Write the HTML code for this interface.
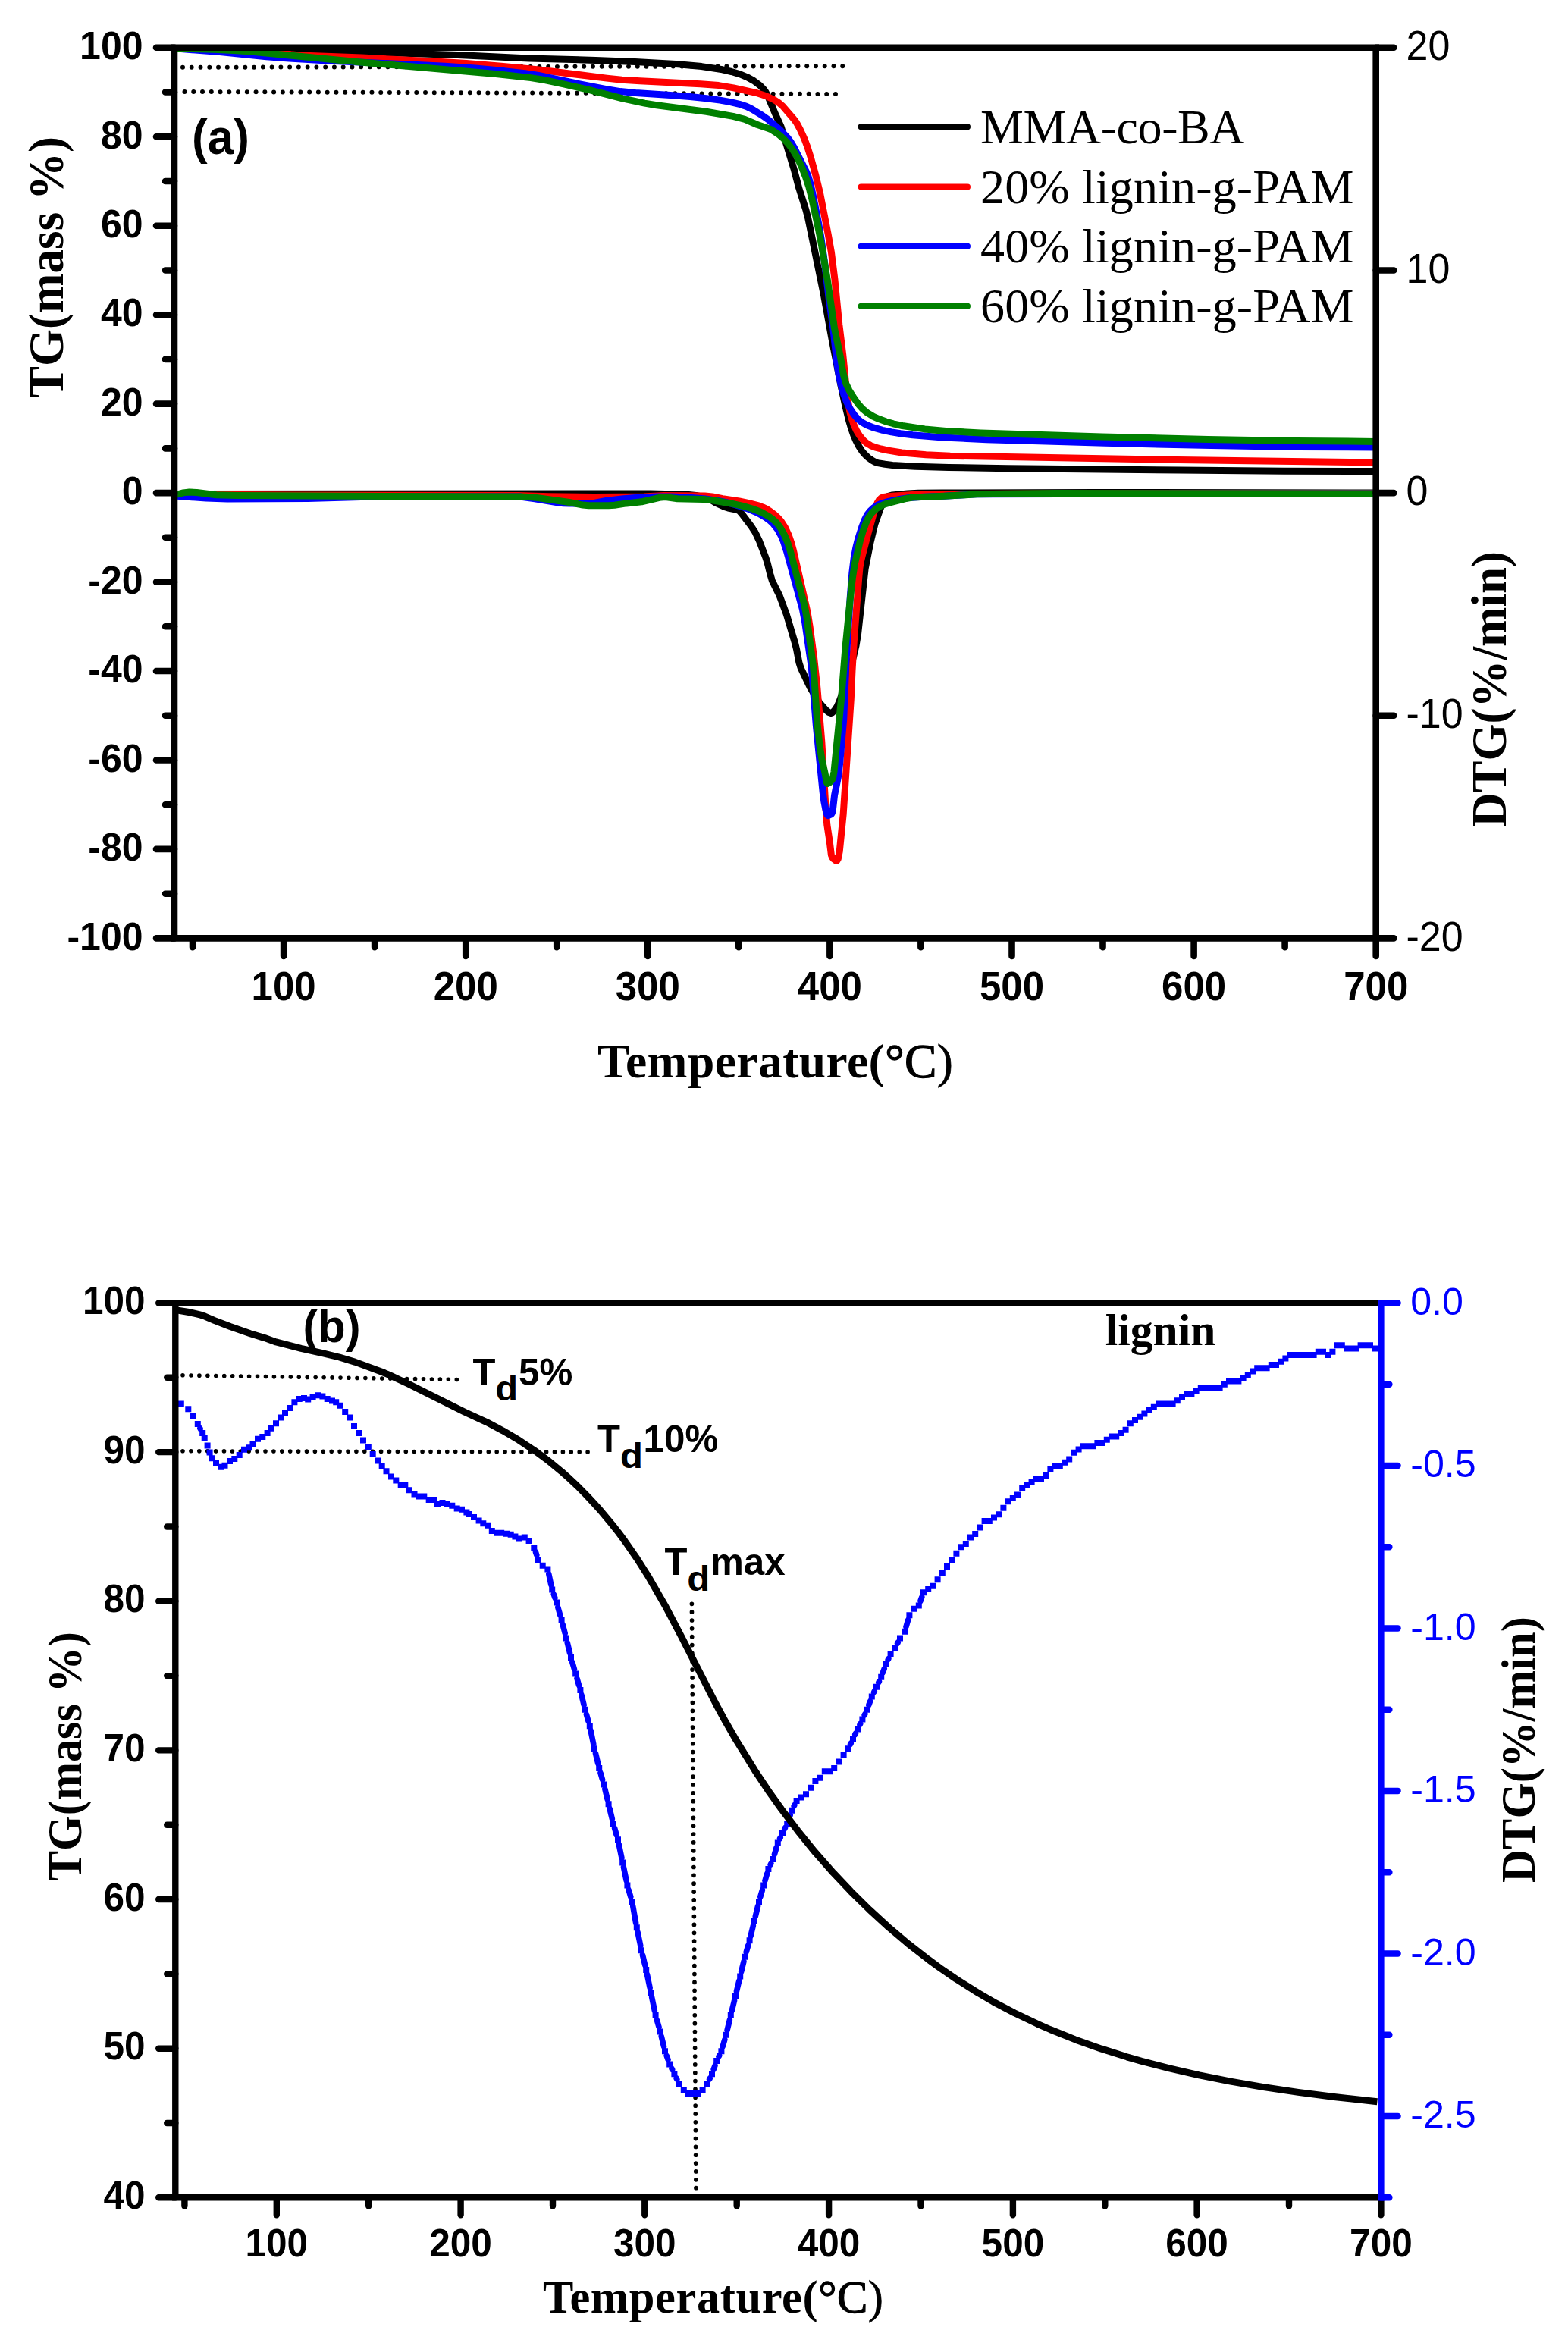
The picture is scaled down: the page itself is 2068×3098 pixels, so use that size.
<!DOCTYPE html>
<html><head><meta charset="utf-8"><title>TG / DTG curves</title>
<style>
html,body{margin:0;padding:0;background:#fff}
svg{display:block}
.sb{font-family:"Liberation Sans",sans-serif;font-weight:bold}
.sr{font-family:"Liberation Sans",sans-serif;font-weight:normal}
.tb{font-family:"Liberation Serif",serif;font-weight:bold}
.tr{font-family:"Liberation Serif",serif;font-weight:normal}
.c{fill:none;stroke-linejoin:round;stroke-linecap:butt}
.ax{fill:none;stroke-linecap:round}
.dot{fill:none;stroke:#000;stroke-linecap:round}
</style></head><body>
<svg width="2068" height="3098" viewBox="0 0 2068 3098">
<rect width="2068" height="3098" fill="#fff"/>
<g id="panel-a">
<line class="dot" x1="241" y1="88.8" x2="1112" y2="87.2" stroke-width="6" stroke-dasharray="0 11.76"/>
<line class="dot" x1="243.5" y1="121" x2="1104" y2="124" stroke-width="6" stroke-dasharray="0 11.76"/>
<polyline class="c" stroke="#000" stroke-width="9" points="230.0,63.8 365.9,65.8 499.8,69.2 603.8,72.6 697.6,76.9 785.6,79.4 837.5,81.4 891.4,84.4 925.3,87.6 952.9,91.8 964.7,94.5 976.1,97.9 985.5,101.8 994.1,106.5 1002.3,112.7 1007.9,118.5 1010.0,121.6 1012.7,126.8 1022.1,149.2 1030.2,167.4 1047.6,224.8 1053.7,248.0 1062.8,276.6 1065.8,288.2 1085.9,386.2 1097.8,451.0 1108.5,506.0 1115.3,537.3 1119.6,554.8 1122.4,564.3 1125.7,573.8 1128.9,581.2 1132.5,588.2 1137.0,595.1 1140.9,599.7 1145.2,603.6 1150.3,607.2 1153.9,609.2 1157.6,610.6 1167.1,612.3 1177.1,613.5 1207.2,615.3 1251.2,616.5 1329.2,617.8 1555.1,620.1 1693.0,621.2 1815.0,621.6"/>
<polyline class="c" stroke="#000" stroke-width="9" points="230.0,651.5 858.0,651.0 906.0,652.3 920.1,653.8 931.6,656.1 935.1,657.8 943.8,663.2 954.8,668.2 960.4,670.1 970.5,672.0 973.9,673.1 975.4,674.2 978.1,677.2 990.5,693.6 995.9,701.9 1001.1,712.7 1009.8,735.1 1012.2,742.7 1016.1,758.3 1018.4,765.9 1028.1,785.6 1037.2,810.0 1048.6,848.4 1050.5,856.1 1053.9,873.9 1056.3,881.4 1068.5,906.7 1077.7,922.3 1081.2,927.1 1089.8,936.9 1093.0,939.4 1096.0,940.4 1097.5,939.9 1099.1,938.6 1102.0,935.0 1104.1,931.7 1106.6,926.2 1109.3,918.7 1114.6,901.4 1121.5,880.5 1125.3,867.1 1129.0,851.5 1131.6,835.7 1141.1,750.2 1148.1,714.9 1153.8,691.6 1164.7,660.7 1166.4,657.6 1167.5,656.4 1171.0,654.6 1177.1,652.9 1196.9,650.9 1211.0,650.3 1243.0,650.0 1445.0,649.5 1815.0,650.0"/>
<polyline class="c" stroke="#f00" stroke-width="9" points="230.0,63.8 282.1,64.5 341.9,66.6 353.9,67.7 383.6,71.7 395.6,72.9 477.5,76.1 573.3,81.1 615.2,83.6 661.1,87.2 710.9,92.0 800.2,103.1 820.0,105.2 844.0,106.8 923.9,110.7 947.8,112.6 967.5,115.9 996.9,122.3 1010.1,126.5 1021.2,131.8 1027.8,136.1 1032.2,139.9 1046.7,156.8 1050.3,161.5 1055.1,170.3 1060.9,183.1 1065.1,194.3 1069.3,207.6 1075.7,230.8 1081.4,254.1 1092.2,309.0 1096.4,332.6 1100.9,368.3 1106.8,428.0 1111.7,467.7 1115.5,505.5 1118.2,527.4 1120.8,543.1 1122.9,550.9 1126.1,560.3 1129.5,567.7 1133.7,574.6 1138.7,580.7 1143.4,584.7 1148.4,587.7 1153.9,589.8 1161.8,592.0 1171.6,594.1 1189.4,597.0 1221.2,599.8 1253.2,601.3 1553.1,606.6 1815.0,610.0"/>
<polyline class="c" stroke="#f00" stroke-width="9" points="230.0,652.0 391.9,653.0 683.7,653.5 723.7,654.8 783.6,655.5 849.6,655.0 875.5,653.5 929.5,654.0 939.4,655.0 953.2,657.7 974.9,661.0 986.8,663.3 1000.5,666.9 1005.9,668.9 1011.2,671.4 1016.4,674.7 1021.4,678.6 1026.0,682.8 1030.0,687.2 1035.2,695.1 1040.3,706.2 1043.6,715.8 1046.3,725.4 1065.0,807.3 1067.9,825.1 1073.5,866.7 1077.8,906.4 1083.8,978.1 1089.2,1067.9 1090.8,1087.8 1094.4,1111.5 1096.4,1127.7 1097.9,1131.1 1099.5,1133.0 1102.8,1135.5 1103.7,1135.4 1105.3,1132.5 1107.2,1123.2 1112.2,1073.5 1122.3,921.9 1124.0,884.0 1126.3,846.0 1132.7,762.3 1134.0,748.4 1135.4,740.6 1137.2,732.8 1146.4,697.9 1153.7,672.3 1157.2,663.1 1159.1,660.0 1161.9,657.1 1163.7,656.0 1165.5,655.4 1173.2,654.5 1203.4,652.6 1239.4,651.5 1495.2,650.7 1815.0,650.5"/>
<polyline class="c" stroke="#00f" stroke-width="9" points="230.0,63.8 289.8,68.6 351.4,74.7 381.3,77.1 431.2,80.0 587.0,87.3 626.9,90.1 664.8,93.6 692.5,96.8 710.3,99.4 759.2,109.7 798.5,117.4 818.2,120.6 838.1,122.6 884.0,125.5 909.9,127.6 931.8,129.7 949.6,132.1 963.6,134.6 975.2,137.4 984.5,140.4 991.7,143.9 1005.5,152.3 1013.6,158.2 1028.8,171.2 1038.5,181.3 1043.3,187.7 1047.3,194.6 1063.5,226.8 1065.9,232.3 1068.7,241.8 1072.3,257.5 1080.0,296.7 1083.0,314.4 1087.5,346.1 1093.2,393.7 1098.6,431.3 1103.8,479.1 1106.3,494.8 1109.4,508.6 1112.7,520.0 1116.3,529.4 1120.8,538.4 1126.3,546.8 1131.7,552.9 1136.1,556.6 1143.0,560.5 1152.5,564.2 1164.0,567.3 1175.8,569.9 1187.7,571.8 1203.6,573.7 1243.4,576.9 1301.3,579.7 1457.2,584.3 1597.1,587.6 1711.0,589.4 1815.0,590.0"/>
<polyline class="c" stroke="#00f" stroke-width="9" points="230.0,654.0 271.9,657.1 299.8,658.0 405.8,657.4 493.7,655.0 685.6,655.0 705.4,657.8 735.1,662.8 743.0,663.7 750.9,664.0 778.9,663.9 784.8,663.2 800.6,660.2 822.5,657.7 838.4,656.4 866.4,655.1 886.3,655.1 906.3,656.1 930.2,658.0 948.0,660.6 961.7,663.5 975.2,667.3 988.5,671.8 999.6,676.6 1009.9,682.5 1014.8,686.1 1019.3,690.2 1025.4,697.9 1030.3,706.7 1033.3,714.1 1037.6,727.4 1058.2,802.7 1061.6,820.3 1070.2,879.7 1076.4,957.4 1085.2,1044.9 1086.8,1056.8 1088.7,1066.6 1090.4,1073.1 1091.2,1075.0 1092.2,1075.6 1096.2,1073.8 1097.2,1072.6 1098.2,1069.6 1100.6,1048.6 1105.4,1025.0 1107.6,1007.2 1112.8,947.5 1115.9,873.6 1121.4,785.8 1123.8,755.9 1126.2,736.1 1128.8,722.3 1131.7,710.7 1136.6,695.4 1140.2,685.7 1143.8,678.7 1147.3,674.2 1151.8,669.9 1156.9,666.5 1164.0,663.5 1171.8,661.4 1187.6,658.2 1199.5,656.4 1213.4,655.5 1245.4,654.3 1287.3,651.8 1511.0,651.2 1815.0,651.0"/>
<polyline class="c" stroke="#008000" stroke-width="9" points="230.0,63.8 282.0,65.2 307.9,66.4 327.8,67.8 475.1,82.0 656.4,97.7 700.0,102.6 719.7,105.8 743.2,110.8 774.4,117.9 820.9,129.8 850.2,136.1 866.0,138.7 931.4,147.2 966.9,153.4 982.3,157.3 998.9,164.5 1012.2,168.9 1017.7,171.2 1026.1,176.7 1033.7,183.2 1040.4,190.6 1046.3,198.7 1051.3,207.3 1057.3,220.0 1062.4,233.0 1066.8,246.3 1070.7,261.8 1078.8,298.9 1082.7,318.5 1091.4,369.7 1100.5,433.0 1108.3,470.2 1112.4,494.0 1115.5,505.4 1119.8,514.5 1126.1,524.7 1132.0,533.0 1137.3,539.0 1143.3,544.0 1151.9,549.3 1159.2,552.6 1168.5,556.0 1178.2,558.8 1190.0,561.5 1219.6,565.9 1247.5,568.5 1293.4,570.9 1453.2,575.9 1593.1,579.4 1709.0,581.5 1815.0,582.4"/>
<polyline class="c" stroke="#008000" stroke-width="9" points="230.0,653.0 241.7,649.9 249.6,649.0 259.5,649.5 285.4,652.8 313.4,653.4 413.4,654.1 687.4,654.9 701.3,655.7 709.3,656.6 750.9,662.5 768.6,666.1 776.5,666.8 802.5,666.8 810.5,666.2 826.3,663.9 846.2,661.8 869.7,656.3 877.5,655.6 893.4,657.7 927.4,658.6 939.3,659.7 967.0,664.6 978.7,667.1 992.2,671.0 1003.4,675.3 1014.0,681.1 1018.9,684.7 1023.4,688.6 1025.9,691.5 1029.4,696.4 1035.2,707.0 1039.0,716.3 1042.1,725.8 1059.8,793.6 1062.4,805.3 1064.4,817.1 1072.3,876.6 1073.9,894.5 1077.8,952.4 1080.9,982.2 1084.0,1002.0 1088.0,1019.5 1090.1,1031.3 1091.3,1033.5 1094.0,1032.0 1097.4,1028.5 1098.7,1025.1 1100.0,1017.7 1109.4,923.4 1115.0,853.6 1121.3,789.9 1124.4,762.1 1127.2,744.3 1134.9,711.1 1138.4,699.7 1142.7,688.2 1146.3,681.1 1149.7,676.5 1155.7,670.9 1160.8,667.6 1166.1,665.3 1173.8,662.9 1193.4,657.9 1203.2,656.1 1245.1,654.3 1289.1,651.8 1393.0,650.6 1815.0,651.0"/>
<g class="ax" stroke="#000" stroke-width="8.6">
<path stroke-linecap="butt" stroke-linejoin="miter" d="M230.0,1237.4 V62.8 H1814.7 V1237.4 Z"/>
<path d="M230.0,62.8H206 M230.0,121.5H218 M230.0,180.3H206 M230.0,239.0H218 M230.0,297.7H206 M230.0,356.5H218 M230.0,415.2H206 M230.0,473.9H218 M230.0,532.6H206 M230.0,591.4H218 M230.0,650.1H206 M230.0,708.8H218 M230.0,767.6H206 M230.0,826.3H218 M230.0,885.0H206 M230.0,943.8H218 M230.0,1002.5H206 M230.0,1061.2H218 M230.0,1119.9H206 M230.0,1178.7H218 M230.0,1237.4H206 M254.0,1237.4V1249.3 M374.1,1237.4V1261 M494.1,1237.4V1249.3 M614.2,1237.4V1261 M734.2,1237.4V1249.3 M854.3,1237.4V1261 M974.3,1237.4V1249.3 M1094.4,1237.4V1261 M1214.4,1237.4V1249.3 M1334.5,1237.4V1261 M1454.5,1237.4V1249.3 M1574.6,1237.4V1261 M1694.6,1237.4V1249.3 M1814.7,1237.4V1261 M1814.7,62.8H1838.3 M1814.7,356.5H1838.3 M1814.7,650.1H1838.3 M1814.7,943.8H1838.3 M1814.7,1237.4H1838.3"/>
</g>
<text class="sb" font-size="50" transform="translate(188.5,78.0) scale(1,1.04)" text-anchor="end">100</text><text class="sb" font-size="50" transform="translate(188.5,195.5) scale(1,1.04)" text-anchor="end">80</text><text class="sb" font-size="50" transform="translate(188.5,312.9) scale(1,1.04)" text-anchor="end">60</text><text class="sb" font-size="50" transform="translate(188.5,430.4) scale(1,1.04)" text-anchor="end">40</text><text class="sb" font-size="50" transform="translate(188.5,547.8) scale(1,1.04)" text-anchor="end">20</text><text class="sb" font-size="50" transform="translate(188.5,665.3) scale(1,1.04)" text-anchor="end">0</text><text class="sb" font-size="50" transform="translate(188.5,782.8) scale(1,1.04)" text-anchor="end">-20</text><text class="sb" font-size="50" transform="translate(188.5,900.2) scale(1,1.04)" text-anchor="end">-40</text><text class="sb" font-size="50" transform="translate(188.5,1017.7) scale(1,1.04)" text-anchor="end">-60</text><text class="sb" font-size="50" transform="translate(188.5,1135.1) scale(1,1.04)" text-anchor="end">-80</text><text class="sb" font-size="50" transform="translate(188.5,1252.6) scale(1,1.04)" text-anchor="end">-100</text>
<text class="sb" font-size="51" transform="translate(374.1,1319.0) scale(1,1.04)" text-anchor="middle">100</text><text class="sb" font-size="51" transform="translate(614.2,1319.0) scale(1,1.04)" text-anchor="middle">200</text><text class="sb" font-size="51" transform="translate(854.3,1319.0) scale(1,1.04)" text-anchor="middle">300</text><text class="sb" font-size="51" transform="translate(1094.4,1319.0) scale(1,1.04)" text-anchor="middle">400</text><text class="sb" font-size="51" transform="translate(1334.5,1319.0) scale(1,1.04)" text-anchor="middle">500</text><text class="sb" font-size="51" transform="translate(1574.6,1319.0) scale(1,1.04)" text-anchor="middle">600</text><text class="sb" font-size="51" transform="translate(1814.7,1319.0) scale(1,1.04)" text-anchor="middle">700</text>
<text class="sr" font-size="52" transform="translate(1854.5,79.1) scale(1,1.05)">20</text><text class="sr" font-size="52" transform="translate(1854.5,372.8) scale(1,1.05)">10</text><text class="sr" font-size="52" transform="translate(1854.5,666.4) scale(1,1.05)">0</text><text class="sr" font-size="52" transform="translate(1854.5,960.0) scale(1,1.05)">-10</text><text class="sr" font-size="52" transform="translate(1854.5,1253.7) scale(1,1.05)">-20</text>
<text class="tb" font-size="65" transform="translate(82.8,525) rotate(-90)" textLength="345" lengthAdjust="spacingAndGlyphs">TG(mass %)</text>
<text class="tb" font-size="65" transform="translate(1986.3,1091) rotate(-90)" textLength="364" lengthAdjust="spacingAndGlyphs">DTG(%/min)</text>
<text class="tb" font-size="63.5" x="788" y="1420.8" textLength="469" lengthAdjust="spacing">Temperature(<tspan class="tr" stroke="#000" stroke-width="1.3">°C</tspan><tspan class="tr" stroke="#000" stroke-width="0.7">)</tspan></text>
<text class="sb" font-size="62" transform="translate(253.0,203.0) scale(1,1.04)">(a)</text>
<line x1="1135.6" y1="167.3" x2="1276" y2="167.3" stroke="#000" stroke-width="8" stroke-linecap="round"/><text class="tr" font-size="64" x="1293" y="188.9" textLength="348.5" lengthAdjust="spacing">MMA-co-BA</text>
<line x1="1135.6" y1="246.4" x2="1276" y2="246.4" stroke="#f00" stroke-width="8" stroke-linecap="round"/><text class="tr" font-size="64" x="1293" y="268.0" textLength="492.5" lengthAdjust="spacing">20% lignin-g-PAM</text>
<line x1="1135.6" y1="324.7" x2="1276" y2="324.7" stroke="#00f" stroke-width="8" stroke-linecap="round"/><text class="tr" font-size="64" x="1293" y="346.3" textLength="492.5" lengthAdjust="spacing">40% lignin-g-PAM</text>
<line x1="1135.6" y1="403.7" x2="1276" y2="403.7" stroke="#008000" stroke-width="8" stroke-linecap="round"/><text class="tr" font-size="64" x="1293" y="425.3" textLength="492.5" lengthAdjust="spacing">60% lignin-g-PAM</text>
</g>
<g id="panel-b">
<line class="dot" x1="241" y1="1813.8" x2="602.5" y2="1819.5" stroke-width="5.6" stroke-dasharray="0 10.95"/>
<line class="dot" x1="241" y1="1913.8" x2="776" y2="1915" stroke-width="5.6" stroke-dasharray="0 10.9"/>
<line class="dot" x1="912.4" y1="2115.3" x2="918" y2="2893" stroke-width="5.7" stroke-dasharray="0 10.85"/>
<path fill="#00f" d="M234.8,1847.6h8v8h-8zM244.3,1854.2h8v8h-8zM251.0,1863.6h8v8h-8zM256.8,1874.0h8v8h-8zM263.2,1886.0h8v8h-8zM265.7,1892.4h8v8h-8zM269.6,1902.6h8v8h-8zM272.6,1911.6h8v8h-8zM276.0,1919.2h8v8h-8zM281.0,1925.0h8v8h-8zM287.0,1930.7h8v8h-8zM292.5,1928.7h8v8h-8zM299.0,1923.0h8v8h-8zM305.3,1920.0h8v8h-8zM311.7,1914.9h8v8h-8zM318.0,1907.7h8v8h-8zM324.4,1905.2h8v8h-8zM329.5,1900.0h8v8h-8zM336.0,1893.7h8v8h-8zM342.3,1891.0h8v8h-8zM348.6,1886.0h8v8h-8zM353.8,1879.7h8v8h-8zM360.0,1873.3h8v8h-8zM366.5,1865.6h8v8h-8zM372.0,1859.3h8v8h-8zM378.5,1852.9h8v8h-8zM384.4,1845.2h8v8h-8zM390.7,1840.9h8v8h-8zM397.0,1840.0h8v8h-8zM402.2,1841.4h8v8h-8zM408.6,1838.9h8v8h-8zM415.0,1836.3h8v8h-8zM421.4,1837.6h8v8h-8zM427.7,1840.9h8v8h-8zM434.0,1843.4h8v8h-8zM439.2,1845.2h8v8h-8zM445.0,1849.8h8v8h-8zM451.2,1858.0h8v8h-8zM457.0,1865.6h8v8h-8zM463.0,1877.0h8v8h-8zM469.0,1886.0h8v8h-8zM475.0,1895.5h8v8h-8zM481.8,1904.7h8v8h-8zM487.7,1914.0h8v8h-8zM494.0,1922.5h8v8h-8zM499.7,1929.4h8v8h-8zM505.5,1936.3h8v8h-8zM512.0,1943.4h8v8h-8zM518.3,1948.6h8v8h-8zM524.7,1954.2h8v8h-8zM530.3,1955.0h8v8h-8zM536.0,1961.3h8v8h-8zM542.5,1966.4h8v8h-8zM549.0,1969.5h8v8h-8zM555.3,1969.5h8v8h-8zM561.7,1974.0h8v8h-8zM568.0,1974.0h8v8h-8zM573.0,1979.2h8v8h-8zM579.5,1978.0h8v8h-8zM586.0,1979.7h8v8h-8zM592.3,1981.7h8v8h-8zM598.7,1985.5h8v8h-8zM605.0,1986.8h8v8h-8zM611.4,1990.6h8v8h-8zM615.0,1993.0h8v8h-8zM621.0,1997.0h8v8h-8zM627.6,2001.5h8v8h-8zM633.3,2005.3h8v8h-8zM639.0,2007.8h8v8h-8zM644.8,2014.9h8v8h-8zM651.5,2017.7h8v8h-8zM657.2,2017.7h8v8h-8zM664.0,2018.7h8v8h-8zM669.7,2019.7h8v8h-8zM675.4,2022.5h8v8h-8zM681.0,2025.4h8v8h-8zM687.8,2023.5h8v8h-8zM693.6,2027.9h8v8h-8zM700.3,2036.9h8v8h-8zM706.0,2053.0h8v8h-8zM711.7,2060.8h8v8h-8zM718.4,2065.6h8v8h-8zM724.2,2092.4h8v8h-8zM730.0,2109.6h8v8h-8zM736.6,2132.5h8v8h-8zM742.8,2156.4h8v8h-8zM749.0,2182.1h8v8h-8zM755.2,2203.6h8v8h-8zM761.4,2225.0h8v8h-8zM767.6,2250.8h8v8h-8zM773.8,2272.2h8v8h-8zM780.0,2302.2h8v8h-8zM786.2,2328.0h8v8h-8zM792.4,2349.4h8v8h-8zM798.6,2375.2h8v8h-8zM804.8,2400.9h8v8h-8zM811.0,2422.3h8v8h-8zM817.2,2452.4h8v8h-8zM823.4,2482.4h8v8h-8zM829.6,2503.9h8v8h-8zM835.8,2538.2h8v8h-8zM842.0,2568.2h8v8h-8zM848.2,2593.9h8v8h-8zM854.4,2624.0h8v8h-8zM860.6,2654.0h8v8h-8zM866.8,2675.5h8v8h-8zM873.0,2701.2h8v8h-8zM879.2,2718.4h8v8h-8zM885.4,2731.2h8v8h-8zM891.6,2744.1h8v8h-8zM897.8,2752.7h8v8h-8zM904.0,2757.0h8v8h-8zM910.2,2757.0h8v8h-8zM916.4,2757.0h8v8h-8zM922.6,2752.7h8v8h-8zM928.8,2744.1h8v8h-8zM935.0,2731.2h8v8h-8zM941.2,2714.1h8v8h-8zM947.4,2701.2h8v8h-8zM953.6,2679.8h8v8h-8zM959.8,2654.0h8v8h-8zM966.0,2628.3h8v8h-8zM972.2,2602.5h8v8h-8zM978.4,2576.8h8v8h-8zM984.6,2555.3h8v8h-8zM990.8,2529.6h8v8h-8zM997.0,2503.9h8v8h-8zM1003.2,2482.4h8v8h-8zM1009.4,2461.0h8v8h-8zM1015.6,2448.1h8v8h-8zM1021.8,2426.6h8v8h-8zM1028.0,2413.8h8v8h-8zM1034.2,2400.9h8v8h-8zM1040.4,2383.7h8v8h-8zM1046.6,2370.9h8v8h-8zM1052.8,2366.6h8v8h-8zM1059.0,2362.3h8v8h-8zM1065.2,2353.7h8v8h-8zM1071.4,2345.1h8v8h-8zM1077.6,2340.8h8v8h-8zM1083.8,2332.3h8v8h-8zM1090.0,2332.3h8v8h-8zM1096.2,2328.0h8v8h-8zM1102.4,2319.4h8v8h-8zM1108.6,2310.8h8v8h-8zM1114.8,2302.2h8v8h-8zM1121.0,2289.4h8v8h-8zM1127.2,2276.5h8v8h-8zM1133.4,2263.6h8v8h-8zM1139.6,2250.8h8v8h-8zM1145.8,2233.6h8v8h-8zM1152.0,2220.7h8v8h-8zM1158.2,2207.8h8v8h-8zM1164.4,2190.7h8v8h-8zM1170.6,2177.8h8v8h-8zM1176.8,2169.2h8v8h-8zM1183.0,2156.4h8v8h-8zM1189.2,2147.8h8v8h-8zM1195.4,2126.3h8v8h-8zM1201.6,2117.8h8v8h-8zM1207.8,2113.5h8v8h-8zM1214.0,2096.3h8v8h-8zM1220.2,2092.0h8v8h-8zM1226.4,2087.7h8v8h-8zM1232.6,2079.2h8v8h-8zM1238.8,2070.6h8v8h-8zM1245.0,2062.0h8v8h-8zM1251.2,2053.4h8v8h-8zM1257.4,2044.8h8v8h-8zM1263.6,2036.2h8v8h-8zM1269.8,2032.0h8v8h-8zM1276.0,2023.4h8v8h-8zM1282.2,2019.1h8v8h-8zM1288.4,2010.5h8v8h-8zM1294.6,2001.9h8v8h-8zM1300.8,2001.9h8v8h-8zM1307.0,1997.6h8v8h-8zM1313.2,1993.3h8v8h-8zM1319.4,1984.8h8v8h-8zM1325.6,1976.2h8v8h-8zM1331.8,1971.9h8v8h-8zM1338.0,1967.6h8v8h-8zM1344.2,1959.0h8v8h-8zM1350.4,1954.7h8v8h-8zM1356.6,1950.5h8v8h-8zM1362.8,1946.2h8v8h-8zM1369.0,1946.2h8v8h-8zM1375.2,1941.9h8v8h-8zM1381.4,1933.3h8v8h-8zM1387.6,1929.0h8v8h-8zM1393.8,1929.0h8v8h-8zM1400.0,1924.7h8v8h-8zM1406.2,1920.4h8v8h-8zM1412.4,1911.8h8v8h-8zM1418.6,1907.5h8v8h-8zM1424.8,1903.3h8v8h-8zM1431.0,1903.3h8v8h-8zM1437.2,1903.3h8v8h-8zM1443.4,1899.0h8v8h-8zM1449.6,1899.0h8v8h-8zM1455.8,1894.7h8v8h-8zM1462.0,1890.4h8v8h-8zM1468.2,1890.4h8v8h-8zM1474.4,1886.1h8v8h-8zM1480.6,1881.8h8v8h-8zM1486.8,1873.2h8v8h-8zM1493.0,1868.9h8v8h-8zM1499.2,1864.7h8v8h-8zM1505.4,1860.4h8v8h-8zM1511.6,1856.1h8v8h-8zM1517.8,1851.8h8v8h-8zM1524.0,1847.5h8v8h-8zM1530.2,1847.5h8v8h-8zM1536.4,1847.5h8v8h-8zM1542.6,1847.5h8v8h-8zM1548.8,1843.2h8v8h-8zM1555.0,1838.9h8v8h-8zM1561.2,1834.6h8v8h-8zM1567.4,1834.6h8v8h-8zM1573.6,1830.3h8v8h-8zM1579.8,1826.0h8v8h-8zM1586.0,1826.0h8v8h-8zM1592.2,1826.0h8v8h-8zM1598.4,1826.0h8v8h-8zM1604.6,1826.0h8v8h-8zM1610.8,1821.8h8v8h-8zM1617.0,1817.5h8v8h-8zM1623.2,1817.5h8v8h-8zM1629.4,1817.5h8v8h-8zM1635.6,1813.2h8v8h-8zM1641.8,1808.9h8v8h-8zM1648.0,1804.6h8v8h-8zM1654.2,1800.3h8v8h-8zM1660.4,1800.3h8v8h-8zM1666.6,1800.3h8v8h-8zM1672.8,1796.0h8v8h-8zM1679.0,1796.0h8v8h-8zM1685.2,1791.7h8v8h-8zM1691.4,1787.4h8v8h-8zM1697.6,1783.1h8v8h-8zM1703.8,1783.1h8v8h-8zM1710.0,1783.1h8v8h-8zM1716.2,1783.1h8v8h-8zM1722.4,1783.1h8v8h-8zM1728.6,1783.1h8v8h-8zM1734.8,1778.8h8v8h-8zM1741.0,1778.8h8v8h-8zM1747.2,1783.1h8v8h-8zM1753.4,1778.8h8v8h-8zM1759.6,1770.3h8v8h-8zM1765.8,1770.3h8v8h-8zM1772.0,1774.6h8v8h-8zM1778.2,1774.6h8v8h-8zM1784.4,1774.6h8v8h-8zM1790.6,1770.3h8v8h-8zM1796.8,1770.3h8v8h-8zM1803.0,1770.3h8v8h-8zM1809.2,1774.6h8v8h-8zM1814.0,1774.6h8v8h-8z"/>
<path fill="none" stroke="#00f" stroke-width="7.6" stroke-linecap="round" d="M263.9,1883.7L264.1,1884.3M706.5,2047.0L707.8,2050.9M723.8,2076.0L726.8,2090.0M730.3,2102.6L731.9,2107.4M735.8,2119.8L738.8,2130.3M742.2,2142.8L745.2,2154.1M748.3,2166.7L751.5,2179.8M754.8,2192.4L757.4,2201.3M761.0,2213.8L763.6,2222.8M766.9,2235.3L770.1,2248.4M773.4,2261.0L776.0,2270.0M779.1,2282.6L782.7,2299.9M785.5,2312.5L788.7,2325.7M792.0,2338.2L794.6,2347.2M797.9,2359.7L801.1,2372.8M804.1,2385.5L807.3,2398.6M810.6,2411.1L813.2,2420.1M816.3,2432.7L819.9,2450.0M822.5,2462.7L826.1,2480.0M829.2,2492.7L831.8,2501.6M834.8,2514.3L838.6,2535.8M841.1,2548.5L844.7,2565.8M847.5,2578.5L850.7,2591.6M853.5,2604.3L857.1,2621.6M859.7,2634.3L863.3,2651.6M866.4,2664.3L869.0,2673.2M872.3,2685.8L875.5,2698.9M879.2,2711.3L881.0,2716.2M886.0,2728.2L886.6,2729.4M892.2,2741.1L892.8,2742.2M935.6,2742.2L936.2,2741.1M941.2,2729.1L943.0,2724.2M948.0,2712.2L948.6,2711.1M953.2,2699.0L955.8,2690.0M959.1,2677.4L962.3,2664.3M965.3,2651.7L968.5,2638.6M971.5,2626.0L974.7,2612.8M977.7,2600.2L980.9,2587.1M984.2,2574.5L986.8,2565.6M990.1,2553.0L993.3,2539.9M996.3,2527.3L999.5,2514.2M1002.8,2501.6L1005.4,2492.7M1009.0,2480.2L1011.6,2471.2M1016.2,2459.1L1016.8,2457.9M1021.4,2445.8L1024.0,2436.9M1028.6,2424.8L1029.2,2423.6M1034.8,2411.9L1035.4,2410.8M1040.4,2398.8L1042.2,2393.9M1047.2,2381.9L1047.8,2380.7M1121.6,2300.4L1122.2,2299.2M1127.8,2287.5L1128.4,2286.3M1134.0,2274.6L1134.6,2273.5M1140.2,2261.8L1140.8,2260.6M1145.8,2248.6L1147.6,2243.7M1152.6,2231.7L1153.2,2230.6M1158.8,2218.9L1159.4,2217.7M1164.4,2205.7L1166.2,2200.8M1171.2,2188.8L1171.8,2187.7M1183.6,2167.4L1184.2,2166.2M1195.0,2145.5L1197.6,2136.6M1214.0,2111.4L1215.8,2106.4"/>
<polyline class="c" stroke="#000" stroke-width="9" points="231.3,1727.6 249.0,1730.5 264.6,1734.2 270.2,1736.1 283.1,1741.6 303.6,1749.5 330.0,1758.8 349.1,1764.6 364.1,1769.9 397.0,1778.3 426.3,1784.8 447.6,1790.0 468.6,1796.4 504.2,1809.5 513.4,1813.4 538.7,1825.3 612.3,1862.0 641.9,1875.6 663.3,1886.9 684.1,1899.2 704.1,1912.4 721.7,1925.3 740.2,1940.4 752.0,1950.9 763.5,1961.8 774.6,1973.1 790.7,1990.6 807.2,2010.4 815.8,2021.3 824.1,2032.5 840.0,2055.4 856.0,2080.7 877.0,2117.2 898.5,2158.0 944.3,2247.5 956.7,2270.3 970.6,2294.5 995.7,2335.2 1013.4,2361.8 1030.7,2386.1 1052.4,2414.8 1075.1,2442.8 1099.0,2469.9 1122.4,2494.7 1146.7,2518.6 1171.8,2541.6 1197.8,2563.6 1224.7,2584.5 1239.2,2595.1 1260.5,2609.8 1289.2,2627.9 1309.8,2639.9 1337.9,2654.8 1368.4,2669.3 1384.8,2676.5 1418.1,2689.9 1452.0,2701.9 1486.3,2712.8 1505.6,2718.3 1542.5,2727.9 1581.7,2736.9 1623.1,2745.1 1666.7,2752.6 1712.2,2759.4 1761.6,2765.7 1816.4,2771.8"/>
<g class="ax" stroke="#000" stroke-width="8.4">
<path stroke-linecap="butt" stroke-linejoin="miter" d="M1821.4,1718.5 H231.3 V2898.3 H1821.4"/>
<path d="M231.3,1718.5H209.2 M231.3,1816.8H220.2 M231.3,1915.1H209.2 M231.3,2013.5H220.2 M231.3,2111.8H209.2 M231.3,2210.1H220.2 M231.3,2308.4H209.2 M231.3,2406.7H220.2 M231.3,2505.0H209.2 M231.3,2603.4H220.2 M231.3,2701.7H209.2 M231.3,2800.0H220.2 M231.3,2898.3H209.2 M243.4,2898.3V2909.6 M364.8,2898.3V2921.3 M486.2,2898.3V2909.6 M607.6,2898.3V2921.3 M729.0,2898.3V2909.6 M850.3,2898.3V2921.3 M971.7,2898.3V2909.6 M1093.1,2898.3V2921.3 M1214.5,2898.3V2909.6 M1335.9,2898.3V2921.3 M1457.3,2898.3V2909.6 M1578.6,2898.3V2921.3 M1700.0,2898.3V2909.6 M1821.4,2898.3V2921.3"/>
</g>
<g class="ax" stroke="#00f" stroke-width="8.4">
<path stroke-linecap="butt" d="M1821.4,1714.3V2902.5"/>
<path d="M1821.4,1718.5H1843.6 M1821.4,1825.8H1832.4 M1821.4,1933.0H1843.6 M1821.4,2040.2H1832.4 M1821.4,2147.5H1843.6 M1821.4,2254.8H1832.4 M1821.4,2362.0H1843.6 M1821.4,2469.2H1832.4 M1821.4,2576.5H1843.6 M1821.4,2683.8H1832.4 M1821.4,2791.0H1843.6 M1821.4,2898.2H1832.4"/>
</g>
<text class="sb" font-size="49.5" transform="translate(191.5,1733.0) scale(1,1.04)" text-anchor="end">100</text><text class="sb" font-size="49.5" transform="translate(191.5,1929.6) scale(1,1.04)" text-anchor="end">90</text><text class="sb" font-size="49.5" transform="translate(191.5,2126.3) scale(1,1.04)" text-anchor="end">80</text><text class="sb" font-size="49.5" transform="translate(191.5,2322.9) scale(1,1.04)" text-anchor="end">70</text><text class="sb" font-size="49.5" transform="translate(191.5,2519.5) scale(1,1.04)" text-anchor="end">60</text><text class="sb" font-size="49.5" transform="translate(191.5,2716.2) scale(1,1.04)" text-anchor="end">50</text><text class="sb" font-size="49.5" transform="translate(191.5,2912.8) scale(1,1.04)" text-anchor="end">40</text>
<text class="sb" font-size="49.5" transform="translate(364.8,2976.0) scale(1,1.04)" text-anchor="middle">100</text><text class="sb" font-size="49.5" transform="translate(607.6,2976.0) scale(1,1.04)" text-anchor="middle">200</text><text class="sb" font-size="49.5" transform="translate(850.3,2976.0) scale(1,1.04)" text-anchor="middle">300</text><text class="sb" font-size="49.5" transform="translate(1093.1,2976.0) scale(1,1.04)" text-anchor="middle">400</text><text class="sb" font-size="49.5" transform="translate(1335.9,2976.0) scale(1,1.04)" text-anchor="middle">500</text><text class="sb" font-size="49.5" transform="translate(1578.6,2976.0) scale(1,1.04)" text-anchor="middle">600</text><text class="sb" font-size="49.5" transform="translate(1821.4,2976.0) scale(1,1.04)" text-anchor="middle">700</text>
<text class="sr" font-size="50.2" transform="translate(1860.2,1733.8) scale(1,1.0)" fill="#00f">0.0</text><text class="sr" font-size="50.2" transform="translate(1860.2,1948.3) scale(1,1.0)" fill="#00f">-0.5</text><text class="sr" font-size="50.2" transform="translate(1860.2,2162.8) scale(1,1.0)" fill="#00f">-1.0</text><text class="sr" font-size="50.2" transform="translate(1860.2,2377.3) scale(1,1.0)" fill="#00f">-1.5</text><text class="sr" font-size="50.2" transform="translate(1860.2,2591.8) scale(1,1.0)" fill="#00f">-2.0</text><text class="sr" font-size="50.2" transform="translate(1860.2,2806.3) scale(1,1.0)" fill="#00f">-2.5</text>
<text class="tb" font-size="62.5" transform="translate(107.4,2481) rotate(-90)" textLength="329" lengthAdjust="spacingAndGlyphs">TG(mass %)</text>
<text class="tb" font-size="62.5" transform="translate(2024.2,2483) rotate(-90)" textLength="351" lengthAdjust="spacingAndGlyphs">DTG(%/min)</text>
<text class="tb" font-size="60.5" x="716" y="3049.5" textLength="449" lengthAdjust="spacing">Temperature(<tspan class="tr" stroke="#000" stroke-width="1.3">°C</tspan><tspan class="tr" stroke="#000" stroke-width="0.7">)</tspan></text>
<text class="sb" font-size="59.5" transform="translate(399.5,1769.7) scale(1,1.04)">(b)</text>
<text class="tb" font-size="59.5" x="1457.8" y="1773.6" textLength="145.5" lengthAdjust="spacingAndGlyphs">lignin</text>
<text class="sb" font-size="49" transform="translate(623.4,1827.0) scale(1,1.03)">T</text><text class="sb" font-size="49" transform="translate(653.3,1847.4) scale(1,0.945)">d</text><text class="sb" font-size="49.3" transform="translate(684.0,1827.0) scale(1,1.02)">5%</text>
<text class="sb" font-size="49" transform="translate(788.0,1914.8) scale(1,1.03)">T</text><text class="sb" font-size="49" transform="translate(817.9,1936.0) scale(1,0.945)">d</text><text class="sb" font-size="49.3" transform="translate(848.6,1914.8) scale(1,1.02)">10%</text>
<text class="sb" font-size="49" transform="translate(876.4,2077.0) scale(1,1.03)">T</text><text class="sb" font-size="49" transform="translate(906.3,2097.5) scale(1,0.945)">d</text><text class="sb" font-size="49.3" transform="translate(937.0,2077.0) scale(1,1.02)">max</text>
</g>
</svg>
</body></html>
